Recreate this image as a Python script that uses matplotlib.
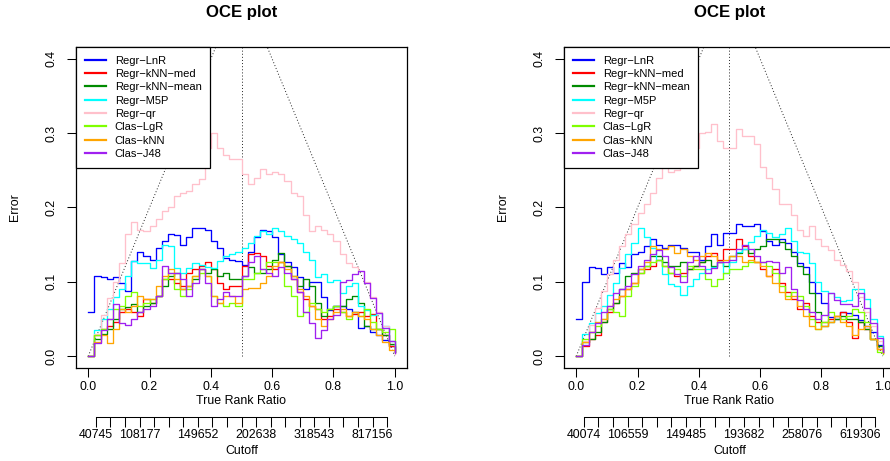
import numpy as np
import matplotlib
matplotlib.use('Agg')
import matplotlib.pyplot as plt

plt.rcParams['font.family'] = ['Liberation Sans', 'DejaVu Sans']

model_names = ['Regr\u2212LnR', 'Regr\u2212kNN\u2212med', 'Regr\u2212kNN\u2212mean', 'Regr\u2212M5P',
               'Regr\u2212qr', 'Clas\u2212LgR', 'Clas\u2212kNN', 'Clas\u2212J48']
model_colors = ['#0000FF', '#FF0000', '#008B00', '#00FFFF',
                '#FFC0CB', '#7FFF00', '#FFA500', '#A020F0']

# true rank ratio grid (step 0.02)
rank_ratio = np.arange(51) / 50.0

# ---- first run ----
left_lnr = [0.060, 0.108, 0.106, 0.104, 0.106, 0.099, 0.088, 0.128, 0.140, 0.135,
            0.130, 0.145, 0.155, 0.165, 0.163, 0.150, 0.160, 0.173, 0.173, 0.170,
            0.155, 0.145, 0.132, 0.130, 0.128, 0.122, 0.140, 0.160, 0.170, 0.168,
            0.160, 0.138, 0.126, 0.120, 0.107, 0.090, 0.100, 0.100, 0.080, 0.062,
            0.068, 0.068, 0.064, 0.060, 0.038, 0.040, 0.033, 0.028, 0.022, 0.014,
            0.005]
left_knn_med = [0.000, 0.028, 0.037, 0.041, 0.046, 0.059, 0.063, 0.059, 0.054, 0.077,
                0.072, 0.081, 0.104, 0.104, 0.099, 0.095, 0.112, 0.117, 0.121, 0.126,
                0.117, 0.099, 0.090, 0.095, 0.095, 0.121, 0.137, 0.139, 0.135, 0.121,
                0.117, 0.126, 0.121, 0.104, 0.086, 0.077, 0.068, 0.063, 0.050, 0.054,
                0.063, 0.059, 0.054, 0.057, 0.059, 0.054, 0.057, 0.037, 0.028, 0.014,
                0.005]
left_knn_mean = [0.000, 0.023, 0.030, 0.037, 0.050, 0.063, 0.066, 0.070, 0.059, 0.068,
                 0.072, 0.081, 0.095, 0.108, 0.112, 0.090, 0.095, 0.104, 0.117, 0.112,
                 0.117, 0.108, 0.112, 0.104, 0.104, 0.108, 0.120, 0.112, 0.112, 0.117,
                 0.130, 0.139, 0.121, 0.108, 0.095, 0.104, 0.095, 0.072, 0.054, 0.063,
                 0.068, 0.068, 0.077, 0.081, 0.072, 0.041, 0.037, 0.037, 0.028, 0.016,
                 0.005]
left_m5p = [0.000, 0.035, 0.050, 0.063, 0.080, 0.090, 0.108, 0.128, 0.125, 0.125,
            0.118, 0.130, 0.150, 0.148, 0.118, 0.112, 0.118, 0.125, 0.122, 0.120,
            0.118, 0.128, 0.135, 0.138, 0.140, 0.145, 0.152, 0.162, 0.168, 0.165,
            0.172, 0.168, 0.162, 0.158, 0.152, 0.140, 0.130, 0.107, 0.110, 0.100,
            0.103, 0.085, 0.095, 0.098, 0.067, 0.062, 0.055, 0.058, 0.040, 0.020,
            0.005]
left_qr = [0.000, 0.030, 0.055, 0.078, 0.100, 0.125, 0.165, 0.180, 0.170, 0.168,
           0.175, 0.185, 0.195, 0.200, 0.215, 0.220, 0.222, 0.232, 0.238, 0.280,
           0.300, 0.280, 0.270, 0.265, 0.265, 0.245, 0.232, 0.240, 0.252, 0.245,
           0.248, 0.245, 0.235, 0.220, 0.215, 0.190, 0.168, 0.175, 0.170, 0.165,
           0.155, 0.138, 0.125, 0.120, 0.115, 0.100, 0.080, 0.060, 0.040, 0.020,
           0.003]
left_lgr = [0.000, 0.028, 0.037, 0.050, 0.063, 0.068, 0.081, 0.086, 0.068, 0.072,
            0.077, 0.081, 0.104, 0.112, 0.090, 0.081, 0.090, 0.108, 0.112, 0.108,
            0.081, 0.072, 0.068, 0.072, 0.068, 0.104, 0.104, 0.112, 0.117, 0.126,
            0.126, 0.126, 0.095, 0.081, 0.054, 0.059, 0.072, 0.063, 0.059, 0.063,
            0.068, 0.059, 0.050, 0.059, 0.054, 0.063, 0.046, 0.037, 0.032, 0.037,
            0.010]
left_knn = [0.000, 0.019, 0.028, 0.018, 0.037, 0.063, 0.059, 0.068, 0.081, 0.077,
            0.077, 0.095, 0.108, 0.117, 0.104, 0.090, 0.095, 0.108, 0.117, 0.108,
            0.081, 0.072, 0.081, 0.081, 0.072, 0.090, 0.092, 0.092, 0.099, 0.108,
            0.121, 0.126, 0.117, 0.108, 0.090, 0.081, 0.068, 0.050, 0.041, 0.050,
            0.059, 0.063, 0.054, 0.059, 0.054, 0.050, 0.037, 0.028, 0.019, 0.008,
            0.005]
left_j48 = [0.000, 0.018, 0.035, 0.050, 0.070, 0.045, 0.042, 0.050, 0.059, 0.063,
            0.068, 0.081, 0.121, 0.112, 0.112, 0.104, 0.081, 0.099, 0.117, 0.099,
            0.068, 0.077, 0.086, 0.081, 0.081, 0.108, 0.126, 0.135, 0.117, 0.112,
            0.108, 0.120, 0.112, 0.104, 0.086, 0.060, 0.045, 0.025, 0.035, 0.050,
            0.055, 0.100, 0.103, 0.110, 0.115, 0.098, 0.078, 0.058, 0.038, 0.020,
            0.004]
left_cutoffs = ['40745', '108177', '149652', '202638', '318543', '817156']

# ---- second run ----
right_lnr = [0.050, 0.100, 0.120, 0.118, 0.110, 0.120, 0.112, 0.125, 0.120, 0.138,
             0.140, 0.148, 0.157, 0.150, 0.145, 0.150, 0.150, 0.145, 0.140, 0.140,
             0.130, 0.148, 0.165, 0.150, 0.166, 0.166, 0.178, 0.175, 0.175, 0.178,
             0.168, 0.155, 0.150, 0.157, 0.152, 0.140, 0.125, 0.120, 0.100, 0.085,
             0.072, 0.052, 0.050, 0.060, 0.058, 0.055, 0.048, 0.040, 0.032, 0.015,
             0.005]
right_knn_med = [0.000, 0.014, 0.023, 0.028, 0.046, 0.059, 0.072, 0.081, 0.090, 0.099,
                 0.112, 0.117, 0.121, 0.130, 0.121, 0.112, 0.108, 0.112, 0.117, 0.121,
                 0.126, 0.135, 0.139, 0.130, 0.144, 0.144, 0.157, 0.148, 0.135, 0.126,
                 0.117, 0.108, 0.117, 0.099, 0.086, 0.077, 0.063, 0.072, 0.054, 0.046,
                 0.046, 0.050, 0.054, 0.059, 0.046, 0.025, 0.046, 0.037, 0.023, 0.010,
                 0.004]
right_knn_mean = [0.000, 0.019, 0.023, 0.032, 0.046, 0.063, 0.072, 0.090, 0.108, 0.112,
                  0.117, 0.121, 0.135, 0.135, 0.126, 0.121, 0.121, 0.126, 0.117, 0.121,
                  0.126, 0.130, 0.121, 0.126, 0.121, 0.135, 0.139, 0.144, 0.139, 0.144,
                  0.148, 0.157, 0.157, 0.153, 0.144, 0.135, 0.121, 0.110, 0.085, 0.060,
                  0.041, 0.046, 0.050, 0.054, 0.050, 0.050, 0.046, 0.037, 0.023, 0.014,
                  0.005]
right_m5p = [0.000, 0.030, 0.045, 0.058, 0.068, 0.082, 0.098, 0.118, 0.138, 0.152,
             0.172, 0.160, 0.145, 0.130, 0.110, 0.097, 0.095, 0.082, 0.095, 0.104,
             0.112, 0.117, 0.120, 0.126, 0.112, 0.126, 0.140, 0.144, 0.153, 0.162,
             0.170, 0.166, 0.160, 0.165, 0.172, 0.155, 0.140, 0.139, 0.125, 0.100,
             0.088, 0.085, 0.080, 0.074, 0.075, 0.090, 0.090, 0.077, 0.050, 0.027,
             0.008]
right_qr = [0.000, 0.020, 0.042, 0.065, 0.088, 0.110, 0.130, 0.148, 0.165, 0.178,
            0.193, 0.205, 0.220, 0.240, 0.255, 0.248, 0.250, 0.258, 0.268, 0.280,
            0.300, 0.302, 0.312, 0.290, 0.280, 0.280, 0.305, 0.296, 0.296, 0.285,
            0.255, 0.240, 0.225, 0.205, 0.205, 0.190, 0.170, 0.162, 0.175, 0.158,
            0.148, 0.143, 0.130, 0.122, 0.115, 0.100, 0.080, 0.060, 0.040, 0.020,
            0.005]
right_lgr = [0.000, 0.023, 0.032, 0.041, 0.050, 0.063, 0.059, 0.054, 0.081, 0.095,
             0.112, 0.121, 0.126, 0.130, 0.121, 0.112, 0.117, 0.108, 0.121, 0.117,
             0.117, 0.104, 0.095, 0.104, 0.112, 0.117, 0.117, 0.121, 0.126, 0.126,
             0.126, 0.121, 0.112, 0.095, 0.081, 0.086, 0.081, 0.068, 0.050, 0.037,
             0.046, 0.059, 0.054, 0.050, 0.054, 0.063, 0.059, 0.046, 0.023, 0.005,
             0.003]
right_knn = [0.000, 0.019, 0.032, 0.046, 0.050, 0.068, 0.077, 0.081, 0.090, 0.099,
             0.117, 0.126, 0.148, 0.144, 0.144, 0.148, 0.139, 0.144, 0.135, 0.130,
             0.135, 0.139, 0.135, 0.126, 0.130, 0.135, 0.135, 0.126, 0.130, 0.126,
             0.121, 0.108, 0.099, 0.086, 0.077, 0.081, 0.068, 0.054, 0.041, 0.037,
             0.041, 0.046, 0.054, 0.046, 0.041, 0.028, 0.037, 0.041, 0.023, 0.010,
             0.004]
right_j48 = [0.000, 0.015, 0.032, 0.045, 0.060, 0.068, 0.085, 0.090, 0.094, 0.110,
             0.121, 0.130, 0.138, 0.143, 0.135, 0.120, 0.110, 0.100, 0.126, 0.135,
             0.121, 0.112, 0.118, 0.126, 0.126, 0.130, 0.144, 0.150, 0.144, 0.135,
             0.126, 0.128, 0.126, 0.112, 0.120, 0.090, 0.075, 0.063, 0.060, 0.050,
             0.055, 0.085, 0.075, 0.070, 0.070, 0.068, 0.085, 0.065, 0.045, 0.025,
             0.005]
right_cutoffs = ['40074', '106559', '149485', '193682', '258076', '619306']

# 21 cutoff ticks, only some of them get a label
cut_ticks = np.linspace(0.025, 0.975, 21)
cut_label_idx = [0, 3, 7, 11, 15, 19]

W, H = 890, 461
fig = plt.figure(figsize=(W / 100, H / 100), dpi=100)

FS = 8.9
dotted = dict(color='#222222', lw=0.7, ls=(0, (1, 2.2)), zorder=1)


def draw_panel(left_px, curves, cutoffs):
    ax = fig.add_axes([left_px / W, (H - 368) / H, 331 / W, 321 / H])
    ax.plot([0, 1], [0, 1], **dotted)
    ax.plot([0, 1], [1, 0], **dotted)
    ax.plot([0.5, 0.5], [0, 1], **dotted)

    handles = []
    for vals, col in zip(curves, model_colors):
        h, = ax.step(rank_ratio, vals, where='post', color=col, lw=0.95, zorder=2)
        handles.append(h)

    ax.set_xlim(-0.04, 1.04)
    ax.set_ylim(-0.016, 0.416)
    ax.set_xticks([0, 0.2, 0.4, 0.6, 0.8, 1.0])
    ax.set_xticklabels(['0.0', '0.2', '0.4', '0.6', '0.8', '1.0'])
    ax.set_yticks([0, 0.1, 0.2, 0.3, 0.4])
    ax.set_yticklabels(['0.0', '0.1', '0.2', '0.3', '0.4'])
    ax.tick_params(direction='out', length=6.5, width=0.75, labelsize=FS)
    ax.tick_params(axis='x', pad=2.5)
    ax.tick_params(axis='y', pad=7, labelrotation=90)
    for lab in ax.get_yticklabels():
        lab.set_verticalalignment('center')
    for s in ax.spines.values():
        s.set_linewidth(0.9)

    ax.text(0.5, 1 + 35 / 321, 'OCE plot', transform=ax.transAxes,
            ha='center', va='center', fontsize=12.1, fontweight='bold')
    ax.text(0.5, -33 / 321, 'True Rank Ratio', transform=ax.transAxes,
            ha='center', va='center', fontsize=FS)
    ax.text(0.5, -83 / 321, 'Cutoff', transform=ax.transAxes,
            ha='center', va='center', fontsize=FS)
    ax.text(-61 / 331, 0.5, 'Error', transform=ax.transAxes, rotation=90,
            ha='center', va='center', fontsize=FS)

    leg = ax.legend(handles, model_names, loc='upper left', bbox_to_anchor=(0, 1),
                    borderaxespad=0, fontsize=8, frameon=True, fancybox=False,
                    framealpha=1, edgecolor='black', handlelength=1.9,
                    handletextpad=0.8, labelspacing=0.3, borderpad=0.78)
    leg.get_frame().set_linewidth(0.9)
    for ln in leg.get_lines():
        ln.set_linewidth(1.6)

    # second axis with the score cutoffs
    cax = fig.add_axes([left_px / W, (H - 417) / H, 331 / W, 1e-4])
    cax.patch.set_visible(False)
    cax.set_xlim(-0.04, 1.04)
    cax.set_yticks([])
    for side in ['top', 'left', 'right']:
        cax.spines[side].set_visible(False)
    cax.spines['bottom'].set_bounds(cut_ticks[0], cut_ticks[-1])
    cax.spines['bottom'].set_linewidth(0.75)
    labels = [''] * len(cut_ticks)
    for i, c in zip(cut_label_idx, cutoffs):
        labels[i] = c
    cax.set_xticks(cut_ticks)
    cax.set_xticklabels(labels)
    cax.tick_params(direction='out', length=7, width=0.75, labelsize=FS, pad=1.5)
    return ax


draw_panel(76, [left_lnr, left_knn_med, left_knn_mean, left_m5p,
                left_qr, left_lgr, left_knn, left_j48], left_cutoffs)
draw_panel(564, [right_lnr, right_knn_med, right_knn_mean, right_m5p,
                 right_qr, right_lgr, right_knn, right_j48], right_cutoffs)

fig.savefig('out.png', dpi=100)
